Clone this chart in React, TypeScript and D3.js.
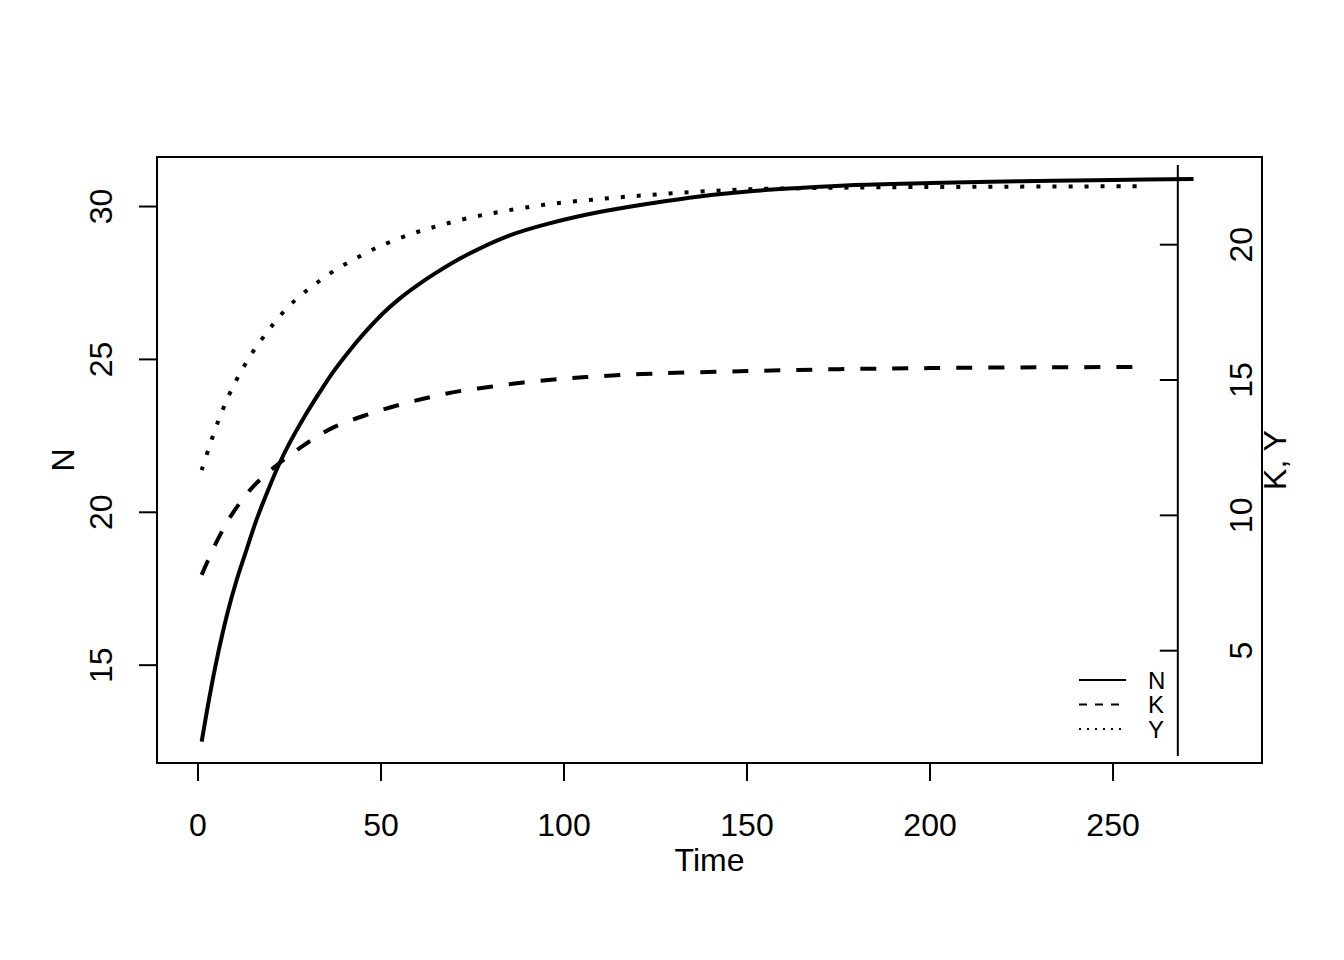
import React from 'react';
import * as d3 from 'd3';

// N (left axis)
const nTime = [1, 3, 5, 8, 10.5, 13, 16, 19, 22, 25, 29, 33, 37, 41.5, 45, 50.5, 55, 60, 65, 73, 85, 96, 110, 123.5, 137, 151, 164.5, 178, 200, 225, 250, 272];
const nValues = [12.5, 13.87, 15.11, 16.68, 17.76, 18.68, 19.76, 20.68, 21.53, 22.26, 23.11, 23.88, 24.6, 25.3, 25.8, 26.5, 26.98, 27.43, 27.83, 28.39, 29.05, 29.45, 29.83, 30.1, 30.33, 30.5, 30.61, 30.7, 30.77, 30.83, 30.87, 30.9];

// K and Y (right axis)
const kTime = [1, 5, 9, 15, 21.5, 28, 31, 37, 46, 55, 63.5, 71.5, 80.5, 89, 98, 106, 125, 150, 175, 200, 230, 258];
const kValues = [7.8, 9.0, 9.98, 11.05, 11.85, 12.5, 12.78, 13.25, 13.71, 14.08, 14.37, 14.59, 14.76, 14.91, 15.03, 15.11, 15.24, 15.33, 15.4, 15.44, 15.47, 15.48];

const yTime = [1, 3, 4.5, 6, 7.5, 9, 11, 13.5, 16, 19, 21.5, 24.5, 28, 31.5, 35, 39, 43, 47, 51, 59, 66, 74, 83.5, 96, 110, 123.5, 137, 151, 178, 215, 258];
const yValues = [11.67, 12.5, 13.1, 13.65, 14.15, 14.6, 15.13, 15.72, 16.24, 16.79, 17.22, 17.68, 18.12, 18.49, 18.84, 19.19, 19.48, 19.77, 20.02, 20.43, 20.71, 20.99, 21.24, 21.5, 21.69, 21.84, 21.96, 22.05, 22.11, 22.14, 22.16];

const xTicks = [0, 50, 100, 150, 200, 250];
const leftTicks = [15, 20, 25, 30];
const rightTicks = [5, 10, 15, 20];
const legendLabels = ['N', 'K', 'Y'];

const font = '"Liberation Sans", Arial, sans-serif';

const App = () => {
  const width = 1344;
  const height = 960;
  const box = { left: 157, right: 1262, top: 157, bottom: 763 };

  const x = d3.scaleLinear().domain([-11.2, 290.7]).range([box.left, box.right]);
  const yLeft = d3.scaleLinear().domain([11.8, 31.62]).range([box.bottom, box.top]);
  const yRight = d3.scaleLinear().domain([0.85, 23.24]).range([box.bottom, box.top]);

  const rightAxisX = x(267.7);

  const line = (ts: number[], vs: number[], sc: d3.ScaleLinear<number, number>) =>
    d3.line<number>()
      .x((_, i) => x(ts[i]))
      .y((v) => sc(v))
      .curve(d3.curveCatmullRom.alpha(0.5))(vs) || '';

  const legendStyles = [
    { dash: 'none' },
    { dash: '8,8' },
    { dash: '2,6' },
  ];

  return (
    <svg width={width} height={height} style={{ position: 'absolute', left: 0, top: 0, background: '#fff' }} fontFamily={font}>
      <rect x={0} y={0} width={width} height={height} fill="#fff" />

      {/* series */}
      <path d={line(nTime, nValues, yLeft)} fill="none" stroke="#000" strokeWidth={4} />
      <path d={line(kTime, kValues, yRight)} fill="none" stroke="#000" strokeWidth={4} strokeDasharray="16,16" />
      <path d={line(yTime, yValues, yRight)} fill="none" stroke="#000" strokeWidth={4} strokeDasharray="4,12" />

      {/* box */}
      <rect x={box.left} y={box.top} width={box.right - box.left} height={box.bottom - box.top} fill="none" stroke="#000" strokeWidth={2} />

      {/* x axis */}
      {xTicks.map((t) => (
        <g key={'x' + t}>
          <line x1={x(t)} x2={x(t)} y1={box.bottom} y2={box.bottom + 18} stroke="#000" strokeWidth={2} />
          <text x={x(t)} y={836} fontSize={32} textAnchor="middle">{t}</text>
        </g>
      ))}
      <text x={(box.left + box.right) / 2} y={871} fontSize={32} textAnchor="middle">Time</text>

      {/* left axis */}
      {leftTicks.map((t) => (
        <g key={'l' + t}>
          <line x1={box.left - 18} x2={box.left} y1={yLeft(t)} y2={yLeft(t)} stroke="#000" strokeWidth={2} />
          <text transform={`translate(112, ${yLeft(t)}) rotate(-90)`} fontSize={32} textAnchor="middle">{t}</text>
        </g>
      ))}
      <text transform={`translate(74, ${(box.top + box.bottom) / 2}) rotate(-90)`} fontSize={32} textAnchor="middle">N</text>

      {/* right axis */}
      <line x1={rightAxisX} x2={rightAxisX} y1={165} y2={756} stroke="#000" strokeWidth={2} />
      {rightTicks.map((t) => (
        <g key={'r' + t}>
          <line x1={rightAxisX - 18} x2={rightAxisX} y1={yRight(t)} y2={yRight(t)} stroke="#000" strokeWidth={2} />
          <text transform={`translate(1252, ${yRight(t)}) rotate(-90)`} fontSize={32} textAnchor="middle">{t}</text>
        </g>
      ))}
      <text transform={`translate(1286, ${(box.top + box.bottom) / 2}) rotate(-90)`} fontSize={32} textAnchor="middle">K, Y</text>

      {/* legend */}
      {legendLabels.map((lab, i) => {
        const ly = 680 + i * 24.5;
        return (
          <g key={lab}>
            <line x1={1079} x2={1126} y1={ly} y2={ly} stroke="#000" strokeWidth={2} strokeDasharray={legendStyles[i].dash} />
            <text x={1148} y={ly} fontSize={24} dominantBaseline="central">{lab}</text>
          </g>
        );
      })}
    </svg>
  );
};

export default App;
